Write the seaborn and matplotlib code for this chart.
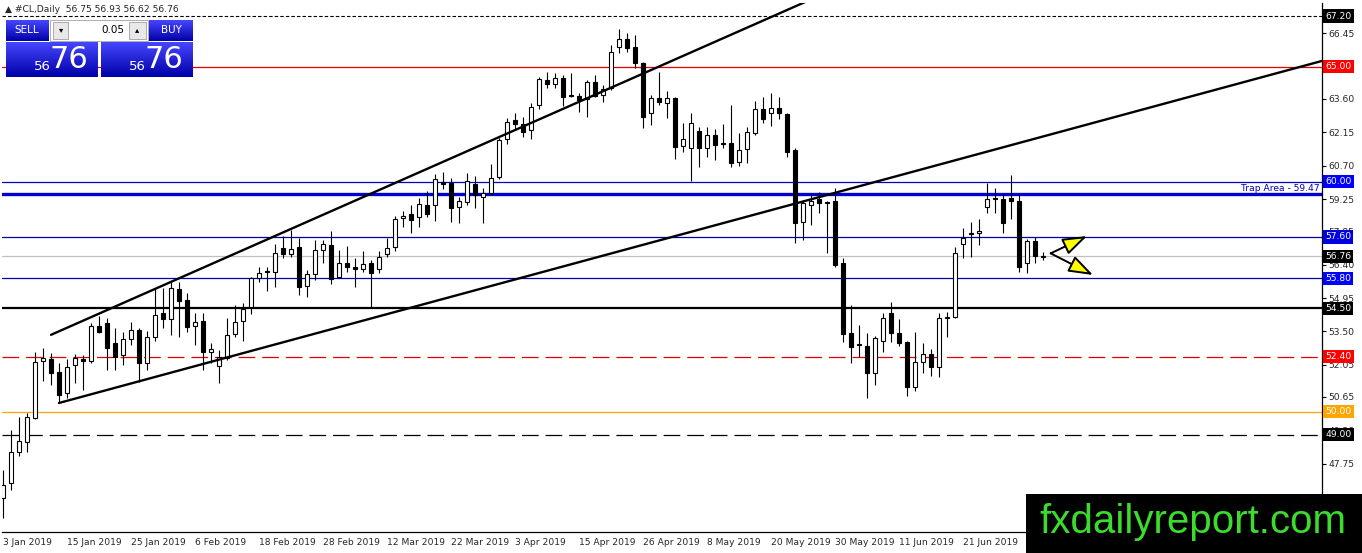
import numpy as np
import matplotlib
matplotlib.use("Agg")
import matplotlib.pyplot as plt
import seaborn as sns
from matplotlib.patches import Rectangle
from matplotlib.colors import LinearSegmentedColormap

# daily OHLC of #CL (3 Jan 2019 .. 5 Jul 2019)
opens = [46.26, 46.91, 48.26, 48.70, 49.74, 52.21, 52.30, 51.74, 50.83, 52.04,
         52.30, 52.21, 53.73, 53.86, 52.99, 52.47, 53.17, 53.56, 52.13, 53.26,
         54.30, 54.04, 55.34, 54.86, 53.73, 53.95, 52.60, 51.99, 52.34, 53.39,
         53.95, 54.56, 55.82, 56.12, 56.08, 57.12, 56.86, 57.17, 55.47, 55.99,
         57.03, 57.25, 55.86, 56.47, 56.30, 56.21, 56.47, 56.21, 56.86, 57.17,
         58.42, 58.60, 58.47, 58.99, 58.99, 59.99, 59.95, 58.90, 59.12, 59.90,
         59.34, 59.51, 60.21, 61.86, 62.68, 62.51, 62.25, 63.34, 64.42, 64.25,
         64.51, 63.77, 63.73, 63.59, 64.33, 63.77, 64.07, 65.85, 66.20, 65.85,
         65.16, 62.99, 63.64, 63.42, 63.64, 61.55, 61.47, 62.20, 61.47, 62.03,
         61.70, 61.68, 60.86, 61.42, 62.12, 63.16, 62.99, 63.20, 62.94, 61.38,
         58.25, 58.99, 59.25, 59.12, 59.16, 56.47, 53.43, 52.95, 52.86, 51.69,
         53.08, 54.30, 53.43, 53.04, 51.08, 52.17, 52.52, 51.95, 54.12, 54.12,
         57.30, 57.77, 57.77, 58.90, 59.30, 59.25, 59.29, 59.16, 56.47, 57.43,
         56.75]
highs = [47.48, 49.22, 49.78, 49.95, 52.60, 52.78, 52.56, 52.13, 52.30, 52.52,
         52.47, 53.86, 54.17, 54.08, 53.65, 53.47, 53.91, 53.65, 53.52, 55.38,
         55.38, 55.64, 55.64, 55.17, 54.30, 54.30, 52.99, 52.69, 54.08, 54.65,
         54.73, 55.86, 56.30, 56.30, 57.30, 57.64, 57.90, 57.56, 56.17, 57.47,
         57.47, 57.86, 57.03, 57.21, 56.69, 56.99, 56.60, 56.99, 57.56, 58.51,
         58.73, 58.99, 59.30, 59.60, 60.34, 60.42, 60.16, 59.34, 60.38, 60.25,
         59.73, 60.77, 61.90, 62.77, 62.99, 62.81, 63.42, 64.55, 64.77, 64.72,
         64.64, 64.72, 63.86, 64.42, 64.64, 64.20, 65.94, 66.64, 66.46, 66.38,
         65.20, 63.77, 64.77, 63.94, 63.68, 62.55, 62.99, 62.38, 62.38, 62.29,
         62.51, 63.33, 62.12, 62.38, 63.51, 63.68, 63.86, 63.68, 62.99, 61.47,
         59.20, 59.51, 59.56, 59.16, 59.73, 56.69, 54.65, 53.78, 53.43, 53.30,
         54.30, 54.78, 54.04, 53.08, 53.47, 52.99, 52.73, 54.30, 54.34, 57.17,
         57.99, 58.25, 58.38, 59.95, 59.73, 59.51, 60.29, 59.51, 57.51, 57.60,
         56.93]
lows = [45.39, 46.61, 48.09, 48.26, 49.70, 51.34, 51.17, 50.39, 50.61, 51.26,
        50.95, 52.13, 53.43, 51.82, 51.82, 52.04, 52.91, 51.30, 51.82, 53.08,
        53.65, 53.34, 53.26, 53.47, 52.91, 51.82, 52.13, 51.26, 52.26, 53.26,
        53.08, 54.26, 55.64, 55.25, 55.43, 56.69, 56.73, 55.08, 54.99, 55.73,
        56.47, 55.56, 55.82, 56.08, 55.43, 56.08, 54.56, 56.04, 56.73, 56.99,
        58.03, 57.77, 58.03, 58.47, 58.30, 59.69, 58.25, 58.21, 58.99, 58.86,
        58.21, 59.42, 60.12, 61.64, 62.25, 61.94, 61.86, 63.16, 64.07, 64.07,
        63.29, 63.68, 63.03, 62.81, 63.68, 63.46, 63.99, 65.59, 65.64, 64.94,
        62.33, 62.46, 63.33, 62.77, 60.99, 61.29, 60.03, 60.64, 61.07, 60.94,
        61.47, 60.64, 60.68, 60.81, 62.03, 62.55, 62.42, 62.73, 61.07, 57.34,
        57.47, 58.12, 58.64, 56.90, 56.30, 53.04, 52.13, 52.39, 50.61, 51.17,
        52.60, 53.04, 52.86, 50.69, 50.91, 51.69, 51.56, 51.52, 53.26, 54.08,
        56.69, 56.73, 57.25, 58.64, 58.64, 57.77, 58.38, 56.08, 56.04, 56.47,
        56.62]
closes = [46.83, 48.26, 48.74, 49.78, 52.17, 52.34, 51.69, 50.74, 51.95, 52.34,
          52.21, 53.73, 53.47, 52.78, 52.39, 53.17, 53.56, 52.13, 53.26, 54.21,
          54.04, 55.38, 54.82, 53.69, 53.91, 52.60, 52.73, 52.39, 53.34, 53.91,
          54.47, 55.82, 56.04, 56.08, 56.90, 56.86, 57.08, 55.43, 55.99, 57.03,
          57.30, 55.77, 56.47, 56.30, 56.21, 56.43, 56.04, 56.73, 57.12, 58.38,
          58.51, 58.34, 59.03, 58.60, 60.12, 59.90, 58.86, 59.16, 60.03, 59.42,
          59.51, 60.16, 61.81, 62.60, 62.51, 62.16, 63.25, 64.46, 64.25, 64.51,
          63.68, 63.73, 63.55, 64.33, 63.73, 64.03, 65.64, 66.20, 65.81, 65.16,
          62.81, 63.64, 63.46, 63.64, 61.51, 61.86, 62.55, 61.47, 62.03, 61.60,
          61.66, 60.81, 61.38, 62.16, 63.16, 62.73, 63.20, 62.99, 61.29, 58.21,
          59.08, 59.16, 59.08, 59.08, 56.38, 53.39, 52.82, 52.91, 51.69, 53.21,
          54.08, 53.43, 52.99, 51.08, 52.17, 52.52, 51.95, 54.08, 54.08, 56.90,
          57.56, 57.73, 57.86, 59.25, 59.25, 58.21, 59.16, 56.30, 57.43, 56.77,
          56.76]

date_labels = ["3 Jan 2019", "15 Jan 2019", "25 Jan 2019", "6 Feb 2019",
               "18 Feb 2019", "28 Feb 2019", "12 Mar 2019", "22 Mar 2019",
               "3 Apr 2019", "15 Apr 2019", "26 Apr 2019", "8 May 2019",
               "20 May 2019", "30 May 2019", "11 Jun 2019", "21 Jun 2019"]
price_ticks = [66.45, 65.00, 63.60, 62.15, 60.70, 59.25, 57.85, 56.40, 54.95,
               53.50, 52.05, 50.65, 49.20, 47.75, 46.30]
# tick labels that sit fully under a price box in the chart
hidden_ticks = [65.00]

# horizontal levels: price, colour, width, style, label box colour
levels = [
    (67.20, "black", 0.8, (0, (2.5, 1.5)), "black"),
    (65.00, "#e00000", 0.9, "-", "#ff0000"),
    (60.00, "#0000c8", 0.9, "-", "#0000ff"),
    (59.47, "#0000d0", 2.4, "-", None),
    (57.60, "#0000a0", 0.9, "-", "#0000e0"),
    (56.76, "#c0c0c0", 0.9, "-", "black"),
    (55.80, "#0000b0", 0.9, "-", "#0000ff"),
    (54.50, "black", 1.6, "-", "black"),
    (52.40, "#e00000", 0.9, (0, (12, 5)), "#ff0000"),
    (50.00, "#ffa500", 0.9, "-", "#ffa500"),
    (49.00, "black", 0.9, (0, (12, 5)), "black"),
]
# trend lines (bar index, price)
upper_x, upper_y = [6, 104], [53.35, 68.38]
lower_x, lower_y = [7, 165], [50.39, 65.26]
arrow_start = (130.96, 56.89)
arrow_ends = [(135.5, 57.64), (136.25, 55.95)]

W, H = 1362, 553
sns.set_style("white")
plt.rcParams["font.family"] = ["DejaVu Sans"]
plt.rcParams["lines.scale_dashes"] = False

fig = plt.figure(figsize=(W / 100, H / 100), dpi=100)
ax = fig.add_axes([2 / W, 21 / H, 1320 / W, 529 / H])

o = np.array(opens)
h = np.array(highs)
l = np.array(lows)
c = np.array(closes)
idx = np.arange(len(o))
up = c >= o

ax.vlines(idx, l, h, color="black", lw=0.8, zorder=4)
ax.bar(idx, np.maximum(np.abs(c - o), 0.015), bottom=np.minimum(o, c), width=0.62,
       color=np.where(up, "white", "black"), edgecolor="black", lw=0.8, zorder=5)

for price, col, lw, ls, box in levels:
    ax.axhline(price, color=col, lw=lw, ls=ls, zorder=2)

sns.lineplot(x=upper_x, y=upper_y, ax=ax, color="black", lw=1.7, zorder=6)
sns.lineplot(x=lower_x, y=lower_y, ax=ax, color="black", lw=1.7, zorder=6)

for tip in arrow_ends:
    ax.annotate("", xy=tip, xytext=arrow_start, zorder=7,
                arrowprops=dict(arrowstyle="-|>,head_length=1.0,head_width=0.35",
                                fc="#ffff00", ec="black", lw=1.4,
                                shrinkA=0, shrinkB=0, mutation_scale=15))

ax.text(0.9985, 59.50, "Trap Area - 59.47", transform=ax.get_yaxis_transform(),
        ha="right", va="bottom", fontsize=6.6, color="#0000c0")

ax.set_xlim(-0.125, 164.875)
ax.set_ylim(44.785, 67.765)
for side in ["top", "left"]:
    ax.spines[side].set_visible(False)
for side in ["right", "bottom"]:
    ax.spines[side].set_color("black")
    ax.spines[side].set_linewidth(0.9)

ax.yaxis.tick_right()
ax.set_yticks(price_ticks)
ax.set_yticklabels(["" if p in hidden_ticks else f"{p:.2f}" for p in price_ticks])
ax.set_xticks(np.arange(len(date_labels)) * 8)
ax.set_xticklabels(date_labels)
ax.tick_params(axis="both", direction="out", length=3, width=0.8, color="black",
               labelsize=6.6, pad=1.5)
for lab in ax.get_xticklabels():
    lab.set_ha("left")

for price, col, lw, ls, box in levels:
    if box is None:
        continue
    ax.text(1.0025, price, f"{price:.2f}", transform=ax.get_yaxis_transform(),
            ha="left", va="center", fontsize=6.6, color="white", zorder=10,
            bbox=dict(boxstyle="square,pad=0.22", fc=box, ec="none"))

ax.set_xlabel("")
ax.set_ylabel("")


def fx(x):
    return x / W


def fy(y):
    return 1 - y / H


# header
fig.text(fx(5), fy(10), "\u25b2 #CL,Daily  56.75 56.93 56.62 56.76", fontsize=6.6,
         va="center", ha="left")

# sell / buy panel
blue = LinearSegmentedColormap.from_list("mt4", ["#4646ff", "#0000a8"])
grad = np.linspace(0, 1, 64).reshape(-1, 1)


def blue_box(x0, y0, w, hh):
    bx = fig.add_axes([fx(x0), fy(y0 + hh), w / W, hh / H])
    bx.imshow(grad, aspect="auto", cmap=blue)
    bx.set_axis_off()
    return bx


blue_box(6, 20, 43, 21)
blue_box(149, 20, 44, 21)
blue_box(6, 42, 92, 35)
blue_box(101, 42, 92, 35)
fig.patches.append(Rectangle((fx(50), fy(41)), 98 / W, 21 / H, transform=fig.transFigure,
                             fc="white", ec="#a0a0a0", lw=0.6))
fig.patches.append(Rectangle((fx(53), fy(39)), 15 / W, 17 / H, transform=fig.transFigure,
                             fc="#e8e8e8", ec="#a0a0a0", lw=0.6))
fig.patches.append(Rectangle((fx(129), fy(39)), 17 / W, 17 / H, transform=fig.transFigure,
                             fc="#e8e8e8", ec="#a0a0a0", lw=0.6))
fig.text(fx(27), fy(30), "SELL", color="white", fontsize=7.5, ha="center", va="center")
fig.text(fx(171), fy(30), "BUY", color="white", fontsize=7.5, ha="center", va="center")
fig.text(fx(124), fy(30), "0.05", color="black", fontsize=7.5, ha="right", va="center")
fig.text(fx(61), fy(30), "\u25be", color="black", fontsize=6, ha="center", va="center")
fig.text(fx(137), fy(30), "\u25b4", color="black", fontsize=6, ha="center", va="center")
for x_small, x_big in [(42, 69), (137, 164)]:
    fig.text(fx(x_small), fy(67), "56", color="white", fontsize=9.5, ha="center", va="center")
    fig.text(fx(x_big), fy(60), "76", color="white", fontsize=22, ha="center", va="center")

# watermark
fig.patches.append(Rectangle((fx(1026), 0), 336 / W, 59 / H, transform=fig.transFigure,
                             fc="black", ec="none", zorder=20))
fig.text(fx(1193), fy(522), "fxdailyreport.com", color="#3bdc2c", fontsize=29,
         family="Liberation Sans", ha="center", va="center", zorder=21)

fig.savefig("out.png", dpi=100)
